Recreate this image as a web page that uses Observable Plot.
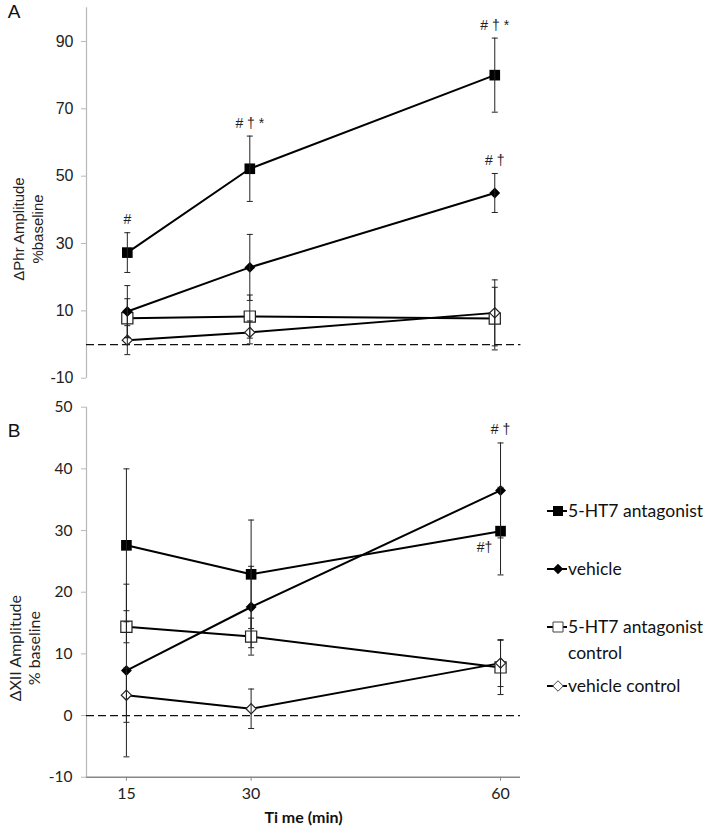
<!DOCTYPE html>
<html>
<head>
<meta charset="utf-8">
<script src="https://cdn.jsdelivr.net/npm/d3@7"></script>
<script src="https://cdn.jsdelivr.net/npm/@observablehq/plot@0.6"></script>
<style>
  html, body { margin: 0; padding: 0; background: #fff; }
  #wrap { position: relative; width: 714px; height: 835px; overflow: hidden; }
  #wrap svg { display: block; }
  .leg { position: absolute; left: 547px; font-family: Lato, "Open Sans", sans-serif; font-size: 17.5px; color: #111; line-height: 26px; }
  .leg svg { position: absolute; left: 0; top: 4px; }
  .leg span { position: absolute; left: 21px; top: 0; white-space: nowrap; }
</style>
</head>
<body>
<div id="wrap"></div>
<script>
// ---------- data ----------
const times = [15, 30, 60];
const seriesNames = ["5-HT7 antagonist", "vehicle", "5-HT7 antagonist control", "vehicle control"];

// Panel A: ΔPhr amplitude (% baseline), mean and error (±)
const phrAntagonist = [27.3, 52.2, 80.0];
const phrAntagonistErr = [5.9, 9.7, 11.0];
const phrVehicle = [9.8, 22.9, 45.0];
const phrVehicleErr = [7.7, 9.8, 5.8];
const phrAntagonistControl = [7.8, 8.3, 7.7];
const phrAntagonistControlErr = [5.8, 6.4, 9.3];
const phrVehicleControl = [1.3, 3.6, 9.4];
const phrVehicleControlErr = [4.3, 3.4, 9.8];

// Panel B: ΔXII amplitude (% baseline)
const xiiAntagonist = [27.6, 22.9, 29.9];
const xiiAntagonistErr = [12.4, 8.8, 7.1];
const xiiVehicle = [7.3, 17.6, 36.5];
const xiiVehicleErr = [14.0, 6.6, 7.7];
const xiiAntagonistControl = [14.4, 12.8, 7.8];
const xiiAntagonistControlErr = [2.6, 3.0, 4.4];
const xiiVehicleControl = [3.3, 1.1, 8.5];
const xiiVehicleControlErr = [4.4, 3.2, 3.8];

const ticksA = [-10, 10, 30, 50, 70, 90];
const ticksB = [-10, 0, 10, 20, 30, 40, 50];
const yDomainA = [-10, 100];
const yDomainB = [-10, 50];
const xDomainA = [10, 63.2];
const xDomainB = [10.2, 62.4];

const annotA = [
  {series: "5-HT7 antagonist", time: 15, text: "#", side: "above"},
  {series: "5-HT7 antagonist", time: 30, text: "# † *", side: "above"},
  {series: "5-HT7 antagonist", time: 60, text: "# † *", side: "above"},
  {series: "vehicle", time: 60, text: "# †", side: "above"}
];
const annotB = [
  {series: "vehicle", time: 60, text: "# †", side: "above"},
  {series: "5-HT7 antagonist", time: 60, text: "#†", side: "below"}
];

// ---------- build tables ----------
function rowsFor(means, errs) {
  const out = [];
  seriesNames.forEach((s, i) => {
    times.forEach((t, j) => out.push({series: s, time: t, mean: means[i][j], err: errs[i][j]}));
  });
  return out;
}
const rowsA = rowsFor(
  [phrAntagonist, phrVehicle, phrAntagonistControl, phrVehicleControl],
  [phrAntagonistErr, phrVehicleErr, phrAntagonistControlErr, phrVehicleControlErr]);
const rowsB = rowsFor(
  [xiiAntagonist, xiiVehicle, xiiAntagonistControl, xiiVehicleControl],
  [xiiAntagonistErr, xiiVehicleErr, xiiAntagonistControlErr, xiiVehicleControlErr]);

function withPos(annots, rows) {
  return annots.map(a => {
    const r = rows.find(d => d.series === a.series && d.time === a.time);
    return {...a, y: a.side === "above" ? r.mean + r.err : r.mean};
  });
}

const capSymbol = { draw(ctx) { ctx.moveTo(-3, 0); ctx.lineTo(3, 0); } };
const isSquare = s => s === "5-HT7 antagonist" || s === "5-HT7 antagonist control";
const isFilled = s => s === "5-HT7 antagonist" || s === "vehicle";
const mid = dom => (dom[0] + dom[1]) / 2;

function dataMarks(rows, annots, annFont) {
  const ann = withPos(annots, rows);
  return [
    Plot.ruleY([0], {stroke: "#111", strokeWidth: 1.2, strokeDasharray: "8,4"}),
    Plot.line(rows, {x: "time", y: "mean", z: "series", stroke: "#000", strokeWidth: 2}),
    Plot.dot(rows.filter(d => isSquare(d.series) && isFilled(d.series)), {x: "time", y: "mean", symbol: "square", r: 6, fill: "#000", stroke: "none"}),
    Plot.dot(rows.filter(d => isSquare(d.series) && !isFilled(d.series)), {x: "time", y: "mean", symbol: "square", r: 6.3, fill: "#fff", stroke: "#222", strokeWidth: 1.2}),
    Plot.dot(rows.filter(d => !isSquare(d.series) && isFilled(d.series)), {x: "time", y: "mean", symbol: d3.symbolDiamond2, r: 4.9, fill: "#000", stroke: "none"}),
    Plot.dot(rows.filter(d => !isSquare(d.series) && !isFilled(d.series)), {x: "time", y: "mean", symbol: d3.symbolDiamond2, r: 4.6, fill: "#fff", stroke: "#222", strokeWidth: 1.2}),
    Plot.ruleX(rows, {x: "time", y1: d => d.mean - d.err, y2: d => d.mean + d.err, stroke: "#222", strokeWidth: 1}),
    Plot.dot(rows, {x: "time", y: d => d.mean + d.err, symbol: capSymbol, r: 1, stroke: "#222", strokeWidth: 1, fill: "none"}),
    Plot.dot(rows, {x: "time", y: d => d.mean - d.err, symbol: capSymbol, r: 1, stroke: "#222", strokeWidth: 1, fill: "none"}),
    Plot.text(ann.filter(a => a.side === "above"), {x: "time", y: "y", text: "text", dy: -13, fontSize: 14, fontFamily: annFont, fill: "#222"}),
    Plot.text(ann.filter(a => a.side === "below"), {x: "time", y: "y", text: "text", dx: -16, dy: 16, fontSize: 14, fontFamily: annFont, fill: "#222"})
  ];
}

const arial = "'Liberation Sans', Arial, sans-serif";
const lato = "Lato, 'Open Sans', sans-serif";

// ---------- panel A ----------
const plotA = Plot.plot({
  width: 714, height: 395,
  marginLeft: 86, marginRight: 193.6, marginTop: 7.3, marginBottom: 17.3,
  style: {fontFamily: arial, background: "#fff"},
  x: {domain: xDomainA, axis: null},
  y: {domain: yDomainA, axis: null},
  marks: [
    Plot.ruleX([xDomainA[0]], {y1: yDomainA[0], y2: yDomainA[1], stroke: "#b8b8b8", strokeWidth: 1.2}),
    Plot.axisY({ticks: ticksA, tickSize: 5, tickPadding: 8, fontSize: 16, stroke: "#b8b8b8", fill: "#222", fontFamily: arial, tickFormat: d => String(d), label: null}),
    ...dataMarks(rowsA, annotA, arial),
    Plot.text(["ΔPhr Amplitude\n%baseline"], {x: () => xDomainA[0], y: () => mid(yDomainA), text: d => d, textAnchor: "middle", lineAnchor: "middle", rotate: -90, dx: -59, dy: 36, fontSize: 15, lineHeight: 1.25, fontFamily: arial, fill: "#222"}),
    Plot.text(["A"], {x: () => xDomainA[0], y: () => yDomainA[1], text: d => d, dx: -72.5, dy: 4, fontSize: 19, fontFamily: arial, fill: "#111"})
  ]
});

// ---------- panel B ----------
const plotB = Plot.plot({
  width: 714, height: 440,
  marginLeft: 86, marginRight: 194, marginTop: 11.7, marginBottom: 58.3,
  style: {fontFamily: lato, background: "#fff"},
  x: {domain: xDomainB, axis: null},
  y: {domain: yDomainB, axis: null},
  marks: [
    Plot.ruleX([xDomainB[0]], {y1: yDomainB[0], y2: yDomainB[1], stroke: "#b8b8b8", strokeWidth: 1.2}),
    Plot.ruleY([yDomainB[0]], {stroke: "#888", strokeWidth: 1.5}),
    Plot.axisY({ticks: ticksB, tickSize: 5, tickPadding: 9, fontSize: 15.5, stroke: "#b8b8b8", fill: "#222", fontFamily: lato, tickFormat: d => String(d), label: null}),
    Plot.axisX({ticks: times, tickSize: 4, tickPadding: 6, fontSize: 16, stroke: "#888", fill: "#222", fontFamily: lato, label: null}),
    ...dataMarks(rowsB, annotB, arial),
    Plot.text(["Ti me (min)"], {x: () => mid(xDomainB), y: () => yDomainB[0], text: d => d, dy: 41, fontSize: 16, fontWeight: "bold", fontFamily: lato, fill: "#111"}),
    Plot.text(["ΔXII Amplitude\n% baseline"], {x: () => xDomainB[0], y: () => mid(yDomainB), text: d => d, textAnchor: "middle", lineAnchor: "middle", rotate: -90, dx: -62, dy: 56, fontSize: 16, lineHeight: 1.2, fontFamily: lato, fill: "#222"}),
    Plot.text(["B"], {x: () => xDomainB[0], y: () => yDomainB[1], text: d => d, dx: -72.5, dy: 23.3, fontSize: 19, fontFamily: arial, fill: "#111"})
  ]
});

const wrap = document.getElementById("wrap");
wrap.appendChild(plotA);
wrap.appendChild(plotB);

// ---------- legend ----------
const legendRows = [
  {name: "5-HT7 antagonist", lines: ["5-HT7 antagonist"], y: 511},
  {name: "vehicle", lines: ["vehicle"], y: 569},
  {name: "5-HT7 antagonist control", lines: ["5-HT7 antagonist", "control"], y: 627},
  {name: "vehicle control", lines: ["vehicle control"], y: 686}
];
const ns = "http://www.w3.org/2000/svg";
legendRows.forEach(item => {
  const div = document.createElement("div");
  div.className = "leg";
  div.style.top = (item.y - 13) + "px";
  const svg = document.createElementNS(ns, "svg");
  svg.setAttribute("width", 22); svg.setAttribute("height", 18);
  const line = document.createElementNS(ns, "line");
  line.setAttribute("x1", 0); line.setAttribute("x2", 20); line.setAttribute("y1", 9); line.setAttribute("y2", 9);
  line.setAttribute("stroke", "#000"); line.setAttribute("stroke-width", 2);
  svg.appendChild(line);
  const sq = isSquare(item.name), filled = isFilled(item.name);
  const path = document.createElementNS(ns, "path");
  const sym = d3.symbol().type(sq ? d3.symbolSquare : d3.symbolDiamond2).size(sq ? 100 : 70);
  path.setAttribute("d", sym());
  path.setAttribute("transform", "translate(11,9)");
  path.setAttribute("fill", filled ? "#000" : "#fff");
  path.setAttribute("stroke", filled ? "none" : "#444");
  path.setAttribute("stroke-width", 1);
  svg.appendChild(path);
  div.appendChild(svg);
  const span = document.createElement("span");
  span.innerHTML = item.lines.join("<br>");
  div.appendChild(span);
  wrap.appendChild(div);
});
</script>
</body>
</html>
